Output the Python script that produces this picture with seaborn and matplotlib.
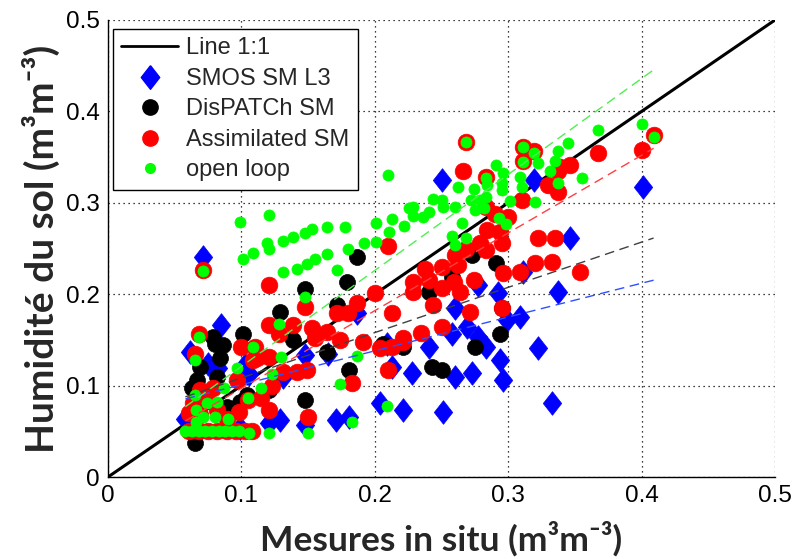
import numpy as np
import pandas as pd
import matplotlib
matplotlib.use("Agg")
import matplotlib.pyplot as plt
import seaborn as sns
from matplotlib.lines import Line2D

# ---------------- data ----------------
smos_x = [0.071, 0.085, 0.0615, 0.075, 0.0825, 0.1027, 0.104, 0.058, 0.099, 0.106, 0.121, 0.129,
          0.148, 0.148, 0.131, 0.171, 0.181, 0.187, 0.165, 0.204, 0.221, 0.213, 0.209, 0.337,
          0.260, 0.258, 0.241, 0.269, 0.277, 0.283, 0.299, 0.309, 0.294, 0.296, 0.322, 0.228,
          0.260, 0.273, 0.251, 0.333, 0.292, 0.250, 0.319, 0.311, 0.346, 0.277, 0.401]
smos_y = [0.241, 0.166, 0.137, 0.124, 0.119, 0.122, 0.114, 0.064, 0.054, 0.113, 0.059, 0.062,
          0.057, 0.133, 0.109, 0.062, 0.066, 0.179, 0.135, 0.081, 0.073, 0.120, 0.146, 0.202,
          0.185, 0.157, 0.142, 0.164, 0.153, 0.142, 0.172, 0.175, 0.128, 0.106, 0.141, 0.114,
          0.109, 0.114, 0.071, 0.081, 0.201, 0.325, 0.325, 0.224, 0.261, 0.210, 0.317]

disp_x = [0.101, 0.080, 0.086, 0.084, 0.069, 0.082, 0.067, 0.063, 0.099, 0.089, 0.104, 0.065,
          0.079, 0.129, 0.187, 0.179, 0.148, 0.172, 0.139, 0.164, 0.181, 0.148, 0.121, 0.206,
          0.221, 0.273, 0.291, 0.258, 0.241, 0.295, 0.294, 0.275, 0.243, 0.250]
disp_y = [0.157, 0.146, 0.144, 0.130, 0.120, 0.109, 0.106, 0.097, 0.082, 0.077, 0.090, 0.037,
          0.153, 0.180, 0.241, 0.213, 0.206, 0.188, 0.150, 0.137, 0.117, 0.084, 0.095, 0.146,
          0.142, 0.243, 0.234, 0.219, 0.202, 0.185, 0.157, 0.142, 0.120, 0.117]

assim_x = [0.068, 0.065, 0.100, 0.109, 0.097, 0.069, 0.079, 0.064, 0.074, 0.061, 0.069, 0.082,
           0.089, 0.098, 0.105, 0.115,
           0.061, 0.068, 0.075, 0.082, 0.089, 0.096, 0.103, 0.108,
           0.071, 0.121, 0.210, 0.200, 0.187, 0.148, 0.121, 0.128, 0.139, 0.153, 0.155, 0.164,
           0.174, 0.172, 0.180, 0.213, 0.191, 0.204, 0.213, 0.221, 0.210, 0.183, 0.150, 0.121,
           0.123, 0.131, 0.142, 0.149, 0.112, 0.121, 0.110,
           0.268, 0.266, 0.283, 0.311, 0.319, 0.311, 0.337, 0.330, 0.337, 0.310, 0.283, 0.290,
           0.300, 0.284, 0.294, 0.295, 0.279, 0.283, 0.268, 0.260, 0.262, 0.250, 0.238, 0.229,
           0.241, 0.259, 0.250, 0.264, 0.274, 0.296, 0.309, 0.320, 0.333, 0.322, 0.335, 0.229,
           0.244, 0.271, 0.295, 0.235, 0.250, 0.221, 0.367, 0.400, 0.409, 0.354, 0.346, 0.339]
assim_y = [0.157, 0.135, 0.142, 0.128, 0.106, 0.095, 0.097, 0.081, 0.084, 0.070, 0.068, 0.073,
           0.064, 0.071, 0.084, 0.086,
           0.050, 0.050, 0.050, 0.050, 0.050, 0.050, 0.050, 0.050,
           0.227, 0.210, 0.253, 0.201, 0.190, 0.186, 0.166, 0.157, 0.166, 0.163, 0.152, 0.159,
           0.150, 0.179, 0.179, 0.179, 0.148, 0.141, 0.142, 0.148, 0.117, 0.103, 0.066, 0.073,
           0.100, 0.115, 0.115, 0.117, 0.130, 0.131, 0.142,
           0.366, 0.335, 0.328, 0.361, 0.357, 0.346, 0.335, 0.319, 0.312, 0.303, 0.295, 0.288,
           0.284, 0.270, 0.268, 0.256, 0.256, 0.248, 0.250, 0.243, 0.232, 0.230, 0.228, 0.213,
           0.215, 0.213, 0.207, 0.202, 0.215, 0.223, 0.224, 0.234, 0.235, 0.262, 0.262, 0.202,
           0.188, 0.180, 0.185, 0.158, 0.164, 0.152, 0.355, 0.358, 0.374, 0.224, 0.341, 0.339]

ol_x = [0.058, 0.063, 0.068, 0.073, 0.078, 0.083, 0.088, 0.093, 0.098,
        0.068, 0.065, 0.109, 0.097, 0.087, 0.065, 0.074, 0.082, 0.066, 0.071, 0.080, 0.090,
        0.066, 0.105,
        0.071, 0.099, 0.101, 0.109, 0.121, 0.119, 0.121, 0.131, 0.139, 0.148, 0.153, 0.164,
        0.178, 0.201, 0.213, 0.222, 0.226, 0.210, 0.211, 0.131, 0.142, 0.149, 0.155, 0.164,
        0.172, 0.180, 0.192, 0.201, 0.148,
        0.268, 0.311, 0.319, 0.311, 0.291, 0.296, 0.322, 0.337, 0.345, 0.335, 0.331, 0.337,
        0.309, 0.310, 0.295, 0.295, 0.283, 0.284, 0.274, 0.262, 0.244, 0.250, 0.251, 0.229,
        0.229, 0.236, 0.241, 0.260, 0.272, 0.275, 0.279, 0.283, 0.282, 0.301, 0.320, 0.293,
        0.298, 0.265, 0.258, 0.268, 0.260, 0.367, 0.400, 0.409, 0.355,
        0.128, 0.130, 0.123, 0.115, 0.187, 0.174, 0.183, 0.209, 0.150, 0.121, 0.106]
ol_y = [0.050, 0.050, 0.050, 0.050, 0.050, 0.050, 0.050, 0.050, 0.050,
        0.153, 0.128, 0.142, 0.119, 0.097, 0.090, 0.081, 0.082, 0.073, 0.066, 0.066, 0.064,
        0.060, 0.086,
        0.225, 0.279, 0.238, 0.245, 0.287, 0.256, 0.250, 0.258, 0.263, 0.267, 0.271, 0.273,
        0.274, 0.278, 0.282, 0.275, 0.294, 0.330, 0.268, 0.224, 0.228, 0.233, 0.238, 0.244,
        0.226, 0.250, 0.256, 0.257, 0.197,
        0.366, 0.361, 0.355, 0.345, 0.341, 0.333, 0.343, 0.357, 0.365, 0.346, 0.335, 0.322,
        0.328, 0.317, 0.322, 0.314, 0.327, 0.319, 0.315, 0.317, 0.304, 0.303, 0.295, 0.295,
        0.286, 0.285, 0.290, 0.295, 0.303, 0.292, 0.303, 0.306, 0.294, 0.302, 0.301, 0.283,
        0.277, 0.278, 0.264, 0.262, 0.254, 0.380, 0.386, 0.372, 0.327,
        0.167, 0.131, 0.113, 0.097, 0.132, 0.102, 0.060, 0.078, 0.048, 0.048, 0.048]

# linear fits (slope, intercept)
fit_names = ["SMOS", "DisPATCh", "Assimilated", "OpenLoop"]
fit_slope = [0.37, 0.495, 0.85, 1.05]
fit_intercept = [0.064, 0.059, 0.012, 0.016]
fit_xrange = [0.058, 0.409]

labels = ["Line 1:1", "SMOS SM L3", "DisPATCh SM", "Assimilated SM", "open loop"]
xticks = [0, 0.1, 0.2, 0.3, 0.4, 0.5]
yticks = [0, 0.1, 0.2, 0.3, 0.4, 0.5]

# ---------------- plot ----------------
sns.set_theme(style="white")
plt.rcParams["font.family"] = ["Liberation Sans", "DejaVu Sans"]

fig = plt.figure(figsize=(7.96, 5.59), dpi=100)
ax = fig.add_axes([108 / 796, 82 / 559, 667 / 796, 457 / 559])

one = pd.DataFrame({"x": [0, 0.5], "y": [0, 0.5]})
sns.lineplot(data=one, x="x", y="y", color="black", linewidth=2.2, ax=ax, zorder=2)

diamond = [(0, 1), (0.78, 0), (0, -1), (-0.78, 0), (0, 1)]

sns.scatterplot(x=smos_x, y=smos_y, marker=diamond, s=17 ** 2, color="#0000FF",
                edgecolor="#0000FF", linewidth=0.5, ax=ax, zorder=3)
sns.scatterplot(x=disp_x, y=disp_y, marker="o", s=11.5 ** 2, color="black",
                edgecolor="black", linewidth=0.5, ax=ax, zorder=4)
sns.scatterplot(x=assim_x, y=assim_y, marker="o", s=12 ** 2, color="#FF0000",
                edgecolor="#FF0000", linewidth=0.5, ax=ax, zorder=5)
sns.scatterplot(x=ol_x, y=ol_y, marker="o", s=8 ** 2, color="#00FF00",
                edgecolor="#00FF00", linewidth=0.5, ax=ax, zorder=6)

fit_colors = ["#3050ff", "#404040", "#ff4040", "#50ee50"]
xf = np.array(fit_xrange)
for sl, ic, c in zip(fit_slope, fit_intercept, fit_colors):
    d = pd.DataFrame({"x": xf, "y": ic + sl * xf})
    sns.lineplot(data=d, x="x", y="y", color=c, linewidth=1.0, ax=ax, zorder=7,
                 dashes=False, linestyle=(0, (7, 4)))

ax.set_xlim(0, 0.5)
ax.set_ylim(0, 0.5)
ax.set_xticks(xticks)
ax.set_yticks(yticks)
ax.set_xticklabels([f"{t:g}" for t in xticks])
ax.set_yticklabels([f"{t:g}" for t in yticks])
ax.tick_params(direction="in", length=6, width=1, labelsize=17.5, colors="black",
               top=False, right=False, pad=6)
ax.grid(True, linestyle=(0, (1, 3)), color="black", linewidth=0.9)
for side in ["top", "right"]:
    ax.spines[side].set_visible(False)
for side in ["left", "bottom"]:
    ax.spines[side].set_color("black")
    ax.spines[side].set_linewidth(1.0)
ax.set_axisbelow(True)

ax.set_xlabel("Mesures in situ (m³m⁻³)", family=["Lato", "DejaVu Sans"],
              weight="bold", size=25.5, labelpad=10)
ax.set_ylabel("Humidité du sol (m³m⁻³)", family=["Lato", "DejaVu Sans"],
              weight="bold", size=28, labelpad=4)

handles = [
    Line2D([], [], color="black", linewidth=2),
    Line2D([], [], color="#0000FF", marker=diamond, linestyle="none", markersize=17),
    Line2D([], [], color="black", marker="o", linestyle="none", markersize=11),
    Line2D([], [], color="#FF0000", marker="o", linestyle="none", markersize=11),
    Line2D([], [], color="#00FF00", marker="o", linestyle="none", markersize=7),
]
leg = ax.legend(handles, labels, loc="upper left", bbox_to_anchor=(0.0075, 0.98),
                borderaxespad=0, fontsize=17, frameon=True, fancybox=False,
                edgecolor="black", framealpha=1, handlelength=2.4, handletextpad=0.35,
                labelspacing=0.36, borderpad=0.35)
leg.get_frame().set_linewidth(1.0)
leg.set_zorder(10)

fig.savefig("out.png", dpi=100)
